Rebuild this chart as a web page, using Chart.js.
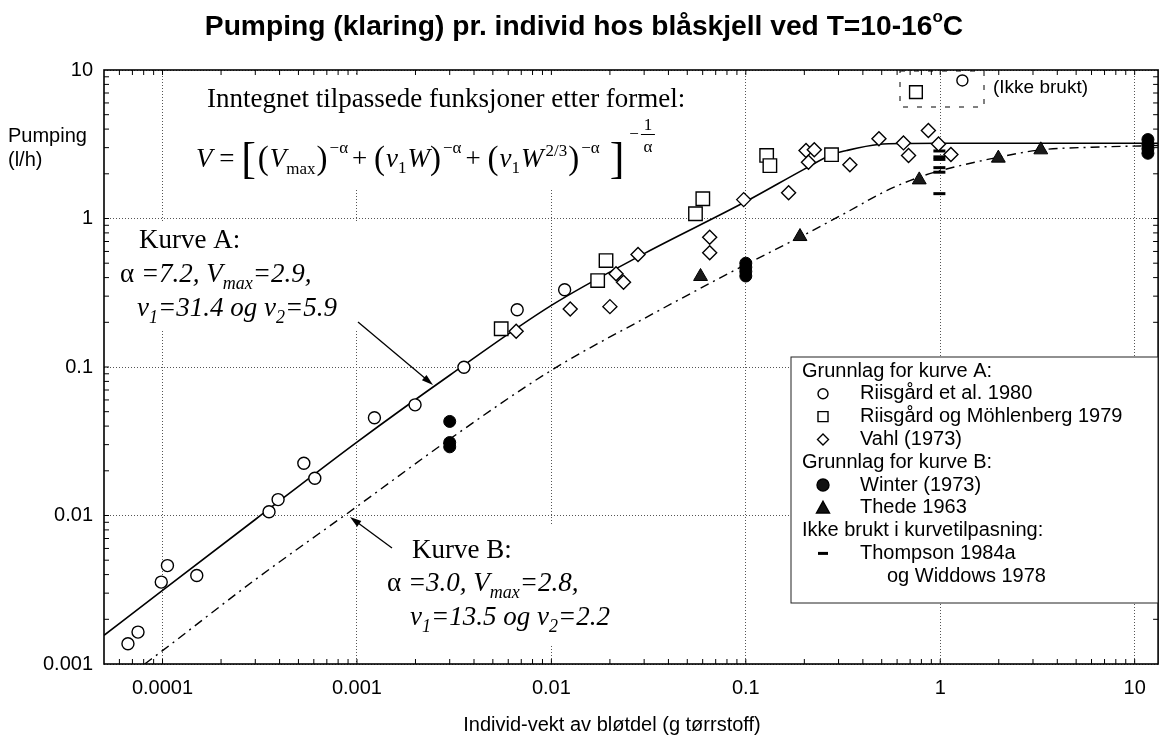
<!DOCTYPE html>
<html>
<head>
<meta charset="utf-8">
<script src="https://cdn.jsdelivr.net/npm/chart.js@4.4.1/dist/chart.umd.min.js"></script>
<style>
  html, body { margin: 0; padding: 0; background: #fff; }
  canvas { display: block; }
</style>
</head>
<body>
<canvas id="chart" width="1169" height="739" style="width:1169px;height:739px"></canvas>
<script>
// ====== Data ======
// Grunnlag for kurve A
const riisgardX = [6.64e-5, 7.48e-5, 9.85e-5, 1.06e-4, 1.5e-4, 3.53e-4, 3.93e-4, 5.33e-4, 6.07e-4, 1.23e-3, 1.99e-3, 3.55e-3, 6.67e-3, 0.0117];
const riisgardY = [0.00137, 0.00164, 0.00356, 0.0046, 0.00394, 0.0106, 0.0128, 0.0225, 0.0178, 0.0455, 0.0556, 0.0997, 0.243, 0.331];

const mohlenbergX = [5.52e-3, 0.0173, 0.0191, 0.0551, 0.0601, 0.128, 0.133, 0.276];
const mohlenbergY = [0.181, 0.382, 0.521, 1.076, 1.358, 2.66, 2.27, 2.69];

const vahlX = [6.59e-3, 0.0125, 0.02, 0.0215, 0.0235, 0.0279, 0.0652, 0.0652, 0.0975, 0.166, 0.204, 0.225, 0.21, 0.343, 0.484, 0.647, 0.687, 0.869, 0.98, 1.135];
const vahlY = [0.174, 0.246, 0.255, 0.425, 0.372, 0.573, 0.748, 0.588, 1.34, 1.49, 2.87, 2.9, 2.39, 2.3, 3.44, 3.23, 2.66, 3.91, 3.18, 2.7];

// Grunnlag for kurve B
const winterX = [0.003, 0.003, 0.003, 0.1, 0.1, 0.1, 0.1, 11.7, 11.7, 11.7, 11.7];
const winterY = [0.043, 0.031, 0.029, 0.50, 0.47, 0.44, 0.41, 3.4, 3.15, 2.95, 2.75];

const thedeX = [0.0585, 0.19, 0.78, 1.99, 3.29];
const thedeY = [0.407, 0.756, 1.82, 2.55, 2.9];

// Ikke brukt i kurvetilpasning
const thompsonX = [0.99, 0.99, 0.99, 0.99, 0.99, 0.99];
const thompsonY = [2.85, 2.6, 2.5, 2.2, 2.05, 1.47];

// (Ikke brukt) note markers
const unusedSquareX = [0.75];
const unusedSquareY = [7.09];
const unusedCircleX = [1.3];
const unusedCircleY = [8.5];

// Fitted curves as drawn in the figure
const curveAX = [5e-5, 1e-4, 3e-4, 1e-3, 3e-3, 0.01, 0.03, 0.1, 0.2, 0.276, 0.33, 0.48, 0.7, 1, 13.2];
const curveAY = [0.00156, 0.00313, 0.0094, 0.0312, 0.088, 0.26, 0.58, 1.3, 2.15, 2.69, 2.87, 3.15, 3.2, 3.21, 3.21];
const curveBX = [8.1e-5, 1e-4, 3e-4, 1e-3, 3e-3, 0.01, 0.03, 0.1, 0.19, 0.33, 0.53, 0.78, 1, 2, 3.3, 6, 13.2];
const curveBY = [0.001, 0.00123, 0.0037, 0.0115, 0.0327, 0.095, 0.212, 0.49, 0.75, 1.1, 1.54, 1.9, 2.1, 2.59, 2.9, 3.02, 3.1];

// Axes
const xTickValues = [0.0001, 0.001, 0.01, 0.1, 1, 10];
const xTickLabels = ['0.0001', '0.001', '0.01', '0.1', '1', '10'];
const yTickValues = [0.001, 0.01, 0.1, 1, 10];
const yTickLabels = ['0.001', '0.01', '0.1', '1', '10'];

// ====== Fonts ======
const SANS = "'Liberation Sans', Arial, Helvetica, sans-serif";
const SERIF = "'Liberation Serif', 'Times New Roman', Times, serif";

const pts = (xs, ys) => xs.map((x, i) => ({ x: x, y: ys[i] }));

// ====== Text helpers ======
function rich(ctx, x, y, parts) {
  parts.forEach(p => {
    ctx.font = p[1];
    ctx.fillText(p[0], x, y + (p[2] || 0));
    x += ctx.measureText(p[0]).width + (p[3] || 0);
  });
  return x;
}

function arrow(ctx, x1, y1, x2, y2) {
  const a = Math.atan2(y2 - y1, x2 - x1);
  ctx.save();
  ctx.strokeStyle = '#000';
  ctx.fillStyle = '#000';
  ctx.lineWidth = 1.3;
  ctx.beginPath();
  ctx.moveTo(x1, y1);
  ctx.lineTo(x2 - 8 * Math.cos(a), y2 - 8 * Math.sin(a));
  ctx.stroke();
  ctx.beginPath();
  ctx.moveTo(x2, y2);
  ctx.lineTo(x2 - 12 * Math.cos(a - 0.3), y2 - 12 * Math.sin(a - 0.3));
  ctx.lineTo(x2 - 12 * Math.cos(a + 0.3), y2 - 12 * Math.sin(a + 0.3));
  ctx.closePath();
  ctx.fill();
  ctx.restore();
}

function marker(ctx, style, x, y, r) {
  ctx.save();
  ctx.strokeStyle = '#000';
  ctx.lineWidth = 1.4;
  ctx.fillStyle = '#fff';
  ctx.beginPath();
  if (style === 'circle' || style === 'dot') {
    ctx.arc(x, y, r, 0, Math.PI * 2);
  } else if (style === 'square') {
    ctx.rect(x - r, y - r, 2 * r, 2 * r);
  } else if (style === 'diamond') {
    ctx.moveTo(x, y - r); ctx.lineTo(x + r, y); ctx.lineTo(x, y + r); ctx.lineTo(x - r, y); ctx.closePath();
  } else if (style === 'triangle') {
    ctx.moveTo(x, y - r); ctx.lineTo(x + r, y + r * 0.8); ctx.lineTo(x - r, y + r * 0.8); ctx.closePath();
  } else if (style === 'dash') {
    ctx.lineWidth = 3;
    ctx.moveTo(x - r, y); ctx.lineTo(x + r, y);
    ctx.stroke();
    ctx.restore();
    return;
  }
  if (style === 'dot' || style === 'triangle') ctx.fillStyle = '#111';
  ctx.fill();
  ctx.stroke();
  ctx.restore();
}

// ====== Annotation plugin ======
const figureText = {
  id: 'figureText',
  beforeDatasetsDraw(chart) {
    const ctx = chart.ctx;
    ctx.save();
    // white backing behind the text blocks (hides grid lines as in the figure)
    ctx.fillStyle = '#fff';
    ctx.fillRect(188, 75, 520, 113);
    ctx.fillRect(112, 221, 252, 110);
    ctx.fillRect(378, 526, 232, 118);

    ctx.fillStyle = '#000';
    ctx.textBaseline = 'alphabetic';
    ctx.textAlign = 'left';
    const fR = `27px ${SERIF}`, fI = `italic 27px ${SERIF}`;
    const fB = `44px ${SERIF}`, fP = `33px ${SERIF}`;
    const fS = `17px ${SERIF}`, fSI = `italic 18px ${SERIF}`;

    ctx.font = fR;
    ctx.fillText('Inntegnet tilpassede funksjoner etter formel:', 207, 107);

    // V = [ (Vmax)^-a + (v1 W)^-a + (v1 W^2/3)^-a ]^(-1/a)
    const fy = 167;
    let x = rich(ctx, 196, fy, [
      ['V', fI], [' = ', fR], ['[', fB, 6, 2], ['(', fP, 2, 1], ['V', fI], ['max', fS, 7, 1], [')', fP, 2, 2],
      ['−α', fS, -14, 4], ['+ ', fR], ['(', fP, 2, 1], ['v', fI], ['1', fS, 6, 1], ['W', fI], [')', fP, 2, 2],
      ['−α', fS, -14, 4], ['+ ', fR], ['(', fP, 2, 1], ['v', fI], ['1', fS, 6, 1], ['W', fI, 0, 2], ['2/3', fS, -11, 1], [')', fP, 2, 2],
      ['−α', fS, -14, 10], [']', fB, 6, 5]
    ]);
    ctx.font = fS;
    ctx.fillText('−', x, fy - 28);
    const cx = x + ctx.measureText('−').width + 9;
    ctx.textAlign = 'center';
    ctx.fillText('1', cx, fy - 37);
    ctx.fillText('α', cx, fy - 15);
    ctx.fillRect(cx - 7, fy - 33, 14, 1);
    ctx.textAlign = 'left';

    // Kurve A
    ctx.font = fR;
    ctx.fillText('Kurve A:', 139, 248);
    rich(ctx, 120, 282, [['α', fR], [' =7.2, V', fI], ['max', fSI, 7], ['=2.9,', fI]]);
    rich(ctx, 137, 316, [['v', fI], ['1', fSI, 7], ['=31.4 og v', fI], ['2', fSI, 7], ['=5.9', fI]]);

    // Kurve B
    ctx.font = fR;
    ctx.fillText('Kurve B:', 412, 558);
    rich(ctx, 387, 591, [['α', fR], [' =3.0, V', fI], ['max', fSI, 7], ['=2.8,', fI]]);
    rich(ctx, 410, 625, [['v', fI], ['1', fSI, 7], ['=13.5 og v', fI], ['2', fSI, 7], ['=2.2', fI]]);
    ctx.restore();
  },
  afterDatasetsDraw(chart) {
    const ctx = chart.ctx;
    const a = chart.chartArea;
    const xs = chart.scales.x, ys = chart.scales.y;
    ctx.save();

    // minor ticks on all four sides
    ctx.strokeStyle = '#000';
    ctx.lineWidth = 1;
    ctx.beginPath();
    for (let d = -5; d <= 1; d++) {
      for (let k = 1; k <= 9; k++) {
        const v = k * Math.pow(10, d);
        if (v > xs.min && v < xs.max) {
          const px = xs.getPixelForValue(v);
          ctx.moveTo(px, a.bottom); ctx.lineTo(px, a.bottom - 5);
          ctx.moveTo(px, a.top); ctx.lineTo(px, a.top + 5);
        }
        if (v > ys.min && v < ys.max) {
          const py = ys.getPixelForValue(v);
          ctx.moveTo(a.left, py); ctx.lineTo(a.left + 5, py);
          ctx.moveTo(a.right, py); ctx.lineTo(a.right - 5, py);
        }
      }
    }
    ctx.stroke();

    // frame
    ctx.lineWidth = 1.6;
    ctx.strokeRect(a.left, a.top, a.right - a.left, a.bottom - a.top);

    // arrows to the curves
    arrow(ctx, 358, 322, 433, 385);
    arrow(ctx, 392, 548, 350, 517);

    // (Ikke brukt) note
    ctx.setLineDash([5, 9]);
    ctx.lineWidth = 1;
    ctx.strokeRect(900, 71, 84, 36);
    ctx.setLineDash([]);
    ctx.fillStyle = '#000';
    ctx.font = `19px ${SANS}`;
    ctx.textBaseline = 'middle';
    ctx.fillText('(Ikke brukt)', 993, 88);

    // legend box
    const lx = 791, ly = 357, lw = 367, lh = 246;
    ctx.fillStyle = '#fff';
    ctx.fillRect(lx, ly, lw, lh);
    ctx.strokeStyle = '#222';
    ctx.lineWidth = 1;
    ctx.strokeRect(lx, ly, lw, lh);
    ctx.fillStyle = '#000';
    ctx.font = `20px ${SANS}`;
    const rows = [
      [null, 'Grunnlag for kurve A:'],
      ['circle', 'Riisgård et al. 1980'],
      ['square', 'Riisgård og Möhlenberg 1979'],
      ['diamond', 'Vahl (1973)'],
      [null, 'Grunnlag for kurve B:'],
      ['dot', 'Winter (1973)'],
      ['triangle', 'Thede 1963'],
      [null, 'Ikke brukt i kurvetilpasning:'],
      ['dash', 'Thompson 1984a'],
      ['', 'og Widdows 1978']
    ];
    const sizes = { circle: 5, square: 5, diamond: 5.5, dot: 6, triangle: 6.5, dash: 5 };
    rows.forEach((r, i) => {
      const y = 371 + i * 22.8;
      ctx.fillStyle = '#000';
      if (r[0] === null) {
        ctx.fillText(r[1], 802, y);
      } else if (r[0] === '') {
        ctx.fillText(r[1], 887, y);
      } else {
        marker(ctx, r[0], 823, y, sizes[r[0]]);
        ctx.fillStyle = '#000';
        ctx.fillText(r[1], 860, y);
      }
    });

    // title (fitted to the width it has in the figure)
    ctx.textBaseline = 'alphabetic';
    const tMain = 'Pumping (klaring) pr. individ hos blåskjell ved T=10-16';
    ctx.font = `bold 24px ${SANS}`;
    const base = ctx.measureText(tMain + 'C').width + ctx.measureText('o').width * 0.6;
    const fs = Math.round(24 * 758 / base * 10) / 10;
    const fsSup = Math.round(fs * 0.62);
    ctx.font = `bold ${fs}px ${SANS}`;
    const w1 = ctx.measureText(tMain).width;
    const w3 = ctx.measureText('C').width;
    ctx.font = `bold ${fsSup}px ${SANS}`;
    const w2 = ctx.measureText('o').width;
    const tx = 584 - (w1 + w2 + w3) / 2;
    ctx.font = `bold ${fs}px ${SANS}`;
    ctx.fillText(tMain, tx, 35);
    ctx.fillText('C', tx + w1 + w2, 35);
    ctx.font = `bold ${fsSup}px ${SANS}`;
    ctx.fillText('o', tx + w1, 22);

    // axis titles
    ctx.font = `20px ${SANS}`;
    ctx.textBaseline = 'middle';
    ctx.fillText('Pumping', 8, 136);
    ctx.fillText('(l/h)', 8, 160);
    ctx.textAlign = 'center';
    ctx.fillText('Individ-vekt av bløtdel (g tørrstoff)', 612, 725);
    ctx.restore();
  }
};

// ====== Chart ======
const openStyle = { backgroundColor: '#fff', borderColor: '#000', borderWidth: 1.4 };

new Chart(document.getElementById('chart').getContext('2d'), {
  type: 'scatter',
  data: {
    datasets: [
      { label: 'Riisgård et al. 1980', data: pts(riisgardX, riisgardY), pointStyle: 'circle', pointRadius: 6, ...openStyle },
      { label: 'Riisgård og Möhlenberg 1979', data: pts(mohlenbergX, mohlenbergY), pointStyle: 'rect', pointRadius: 9.5, ...openStyle },
      { label: 'Vahl (1973)', data: pts(vahlX, vahlY), pointStyle: 'rectRot', pointRadius: 7, ...openStyle },
      { label: 'Winter (1973)', data: pts(winterX, winterY), pointStyle: 'circle', pointRadius: 6, backgroundColor: '#000', borderColor: '#000', borderWidth: 1 },
      { label: 'Thede 1963', data: pts(thedeX, thedeY), pointStyle: 'triangle', pointRadius: 8, backgroundColor: '#1a1a1a', borderColor: '#000', borderWidth: 1 },
      { label: 'Thompson 1984a og Widdows 1978', data: pts(thompsonX, thompsonY), pointStyle: 'line', pointRadius: 6, borderColor: '#000', borderWidth: 3 },
      { label: 'Ikke brukt (rect)', data: pts(unusedSquareX, unusedSquareY), pointStyle: 'rect', pointRadius: 9, ...openStyle },
      { label: 'Ikke brukt (circle)', data: pts(unusedCircleX, unusedCircleY), pointStyle: 'circle', pointRadius: 5.5, ...openStyle },
      { label: 'Kurve A', data: pts(curveAX, curveAY), showLine: true, pointRadius: 0, borderColor: '#000', borderWidth: 1.6, cubicInterpolationMode: 'monotone' },
      { label: 'Kurve B', data: pts(curveBX, curveBY), showLine: true, pointRadius: 0, borderColor: '#000', borderWidth: 1.4, borderDash: [9, 5, 2, 5], cubicInterpolationMode: 'monotone' }
    ]
  },
  options: {
    responsive: false,
    animation: false,
    layout: { padding: { top: 70, right: 6, bottom: 0, left: 0 } },
    plugins: { legend: { display: false }, tooltip: { enabled: false }, title: { display: false } },
    scales: {
      x: {
        type: 'logarithmic',
        min: 5e-5,
        max: 13.2,
        afterBuildTicks: s => { s.ticks = xTickValues.map(v => ({ value: v })); },
        afterFit: s => { s.height = 75; },
        ticks: {
          callback: (v, i) => xTickLabels[i],
          font: { family: SANS, size: 20 },
          color: '#000',
          padding: 12,
          maxRotation: 0,
          autoSkip: false
        },
        grid: { color: '#555', lineWidth: 1, drawTicks: false },
        border: { display: false, dash: [1, 2] }
      },
      y: {
        type: 'logarithmic',
        min: 0.001,
        max: 10,
        afterBuildTicks: s => { s.ticks = yTickValues.map(v => ({ value: v })); },
        afterFit: s => { s.width = 104; },
        ticks: {
          callback: (v, i) => yTickLabels[i],
          font: { family: SANS, size: 20 },
          color: '#000',
          padding: 11,
          autoSkip: false
        },
        grid: { color: '#555', lineWidth: 1, drawTicks: false },
        border: { display: false, dash: [1, 2] }
      }
    }
  },
  plugins: [figureText]
});
</script>
</body>
</html>
